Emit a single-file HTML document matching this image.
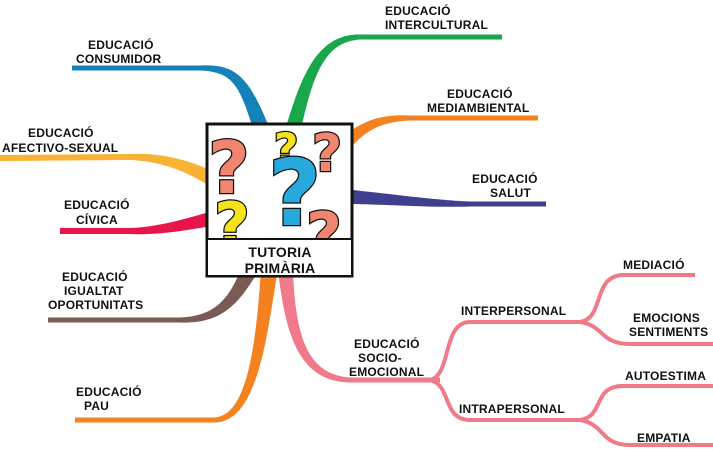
<!DOCTYPE html>
<html><head><meta charset="utf-8"><style>
html,body{margin:0;padding:0;background:#fff;}
svg{display:block;}
text{font-family:"Liberation Sans",sans-serif;font-weight:bold;font-size:12px;fill:#111;letter-spacing:0.2px;}
.q text{font-family:"DejaVu Sans",sans-serif;stroke:#111;stroke-width:2.5;paint-order:stroke;}
</style></head><body>
<svg id="s" width="713" height="450" viewBox="0 0 713 450" xmlns="http://www.w3.org/2000/svg">
<g id="rib"></g>
<g fill="none" stroke="#f07a8a" stroke-width="4">
<path d="M430 380 C452 375 442 322 470 322 L580 322"/>
<path d="M430 380 C452 385 442 420 470 420 L580 420"/>
<path d="M580 322 C605 318 592 277 622 275 L695 275"/>
<path d="M580 322 C605 326 600 344 630 344 L713 344"/>
<path d="M580 420 C605 416 592 387 622 386 L713 386"/>
<path d="M580 420 C605 424 600 445 630 445 L713 445"/>
</g>
<rect x="207" y="124" width="145" height="152" fill="#fff" stroke="#111" stroke-width="3"/>
<svg x="208" y="125" width="143" height="114">
<g class="q">
<text x="0" y="68" style="font-size:72px;fill:#f08570">?</text>
<text x="66" y="38" style="font-size:42px;fill:#f5e21c">?</text>
<text x="104" y="46" style="font-size:52px;fill:#f08570">?</text>
<text x="60" y="100" style="font-size:92px;fill:#27a9de">?</text>
<text x="6" y="122" style="font-size:62px;fill:#f5e21c">?</text>
<text x="98" y="132" style="font-size:62px;fill:#f08570">?</text>
</g>
</svg>
<rect x="207" y="239" width="145" height="37" fill="#fff" stroke="#111" stroke-width="2"/>
<text x="280" y="257" text-anchor="middle" style="font-size:14px">TUTORIA</text>
<text x="280" y="273" text-anchor="middle" style="font-size:14px">PRIMÀRIA</text>
<text x="385" y="15">EDUCACIÓ</text><text x="385" y="29">INTERCULTURAL</text>
<text x="88" y="49">EDUCACIÓ</text><text x="76" y="63">CONSUMIDOR</text>
<text x="447" y="98">EDUCACIÓ</text><text x="427" y="112">MEDIAMBIENTAL</text>
<text x="28" y="137">EDUCACIÓ</text><text x="2" y="152">AFECTIVO-SEXUAL</text>
<text x="472" y="183">EDUCACIÓ</text><text x="490" y="197">SALUT</text>
<text x="64" y="209">EDUCACIÓ</text><text x="76" y="224">CÍVICA</text>
<text x="62" y="281">EDUCACIÓ</text><text x="64" y="295">IGUALTAT</text><text x="48" y="309">OPORTUNITATS</text>
<text x="76" y="396">EDUCACIÓ</text><text x="84" y="410">PAU</text>
<text x="354" y="348">EDUCACIÓ</text><text x="358" y="362">SOCIO-</text><text x="349" y="376">EMOCIONAL</text>
<text x="461" y="315">INTERPERSONAL</text>
<text x="459" y="413">INTRAPERSONAL</text>
<text x="623" y="269">MEDIACIÓ</text>
<text x="633" y="322">EMOCIONS</text><text x="629" y="336">SENTIMENTS</text>
<text x="625" y="380">AUTOESTIMA</text>
<text x="637" y="442">EMPATIA</text>
</svg>
<script>
var R=[
["#1aa64a",[288,150],[305,80],[318,38],[360,37],[502,37],18,5],
["#1482b8",[265,140],[245,80],[235,68],[200,68],[72,68],18,5],
["#f58220",[335,155],[360,125],[380,118],[410,118],[538,118],16,5],
["#f9b233",[240,195],[200,170],[170,157],[130,157],[0,158],20,6],
["#3f3f8f",[320,195],[380,198],[430,204],[470,204],[546,204],18,5],
["#e8154a",[245,212],[200,220],[170,231],[130,231],[60,231],20,6],
["#7a5a55",[252,265],[235,300],[220,320],[180,320],[48,320],18,5],
["#f58220",[270,265],[262,330],[255,418],[215,420],[75,420],18,5],
["#f07a8a",[285,265],[290,330],[300,378],[350,380],[440,380],16,5]
];
var g=document.getElementById('rib'),ns="http://www.w3.org/2000/svg";
R.forEach(function(r){
 var pts=[],N=40,i;
 for(i=0;i<=N;i++){var t=i/N,u=1-t;
  pts.push([u*u*u*r[1][0]+3*u*u*t*r[2][0]+3*u*t*t*r[3][0]+t*t*t*r[4][0],
            u*u*u*r[1][1]+3*u*u*t*r[2][1]+3*u*t*t*r[3][1]+t*t*t*r[4][1]]);}
 pts.push(r[5]);
 var L=[],Rt=[],n=pts.length;
 for(i=0;i<n;i++){
  var a=pts[Math.max(0,i-1)],b=pts[Math.min(n-1,i+1)];
  var dx=b[0]-a[0],dy=b[1]-a[1],l=Math.hypot(dx,dy)||1;
  var nx=-dy/l,ny=dx/l;
  var f=i>=N?1:Math.pow(i/N,0.7);
  var w=(r[6]+(r[7]-r[6])*f)/2;
  L.push((pts[i][0]+nx*w).toFixed(1)+","+(pts[i][1]+ny*w).toFixed(1));
  Rt.push((pts[i][0]-nx*w).toFixed(1)+","+(pts[i][1]-ny*w).toFixed(1));
 }
 var p=document.createElementNS(ns,"polygon");
 p.setAttribute("points",L.concat(Rt.reverse()).join(" "));
 p.setAttribute("fill",r[0]);
 g.appendChild(p);
});
</script>
</body></html>
